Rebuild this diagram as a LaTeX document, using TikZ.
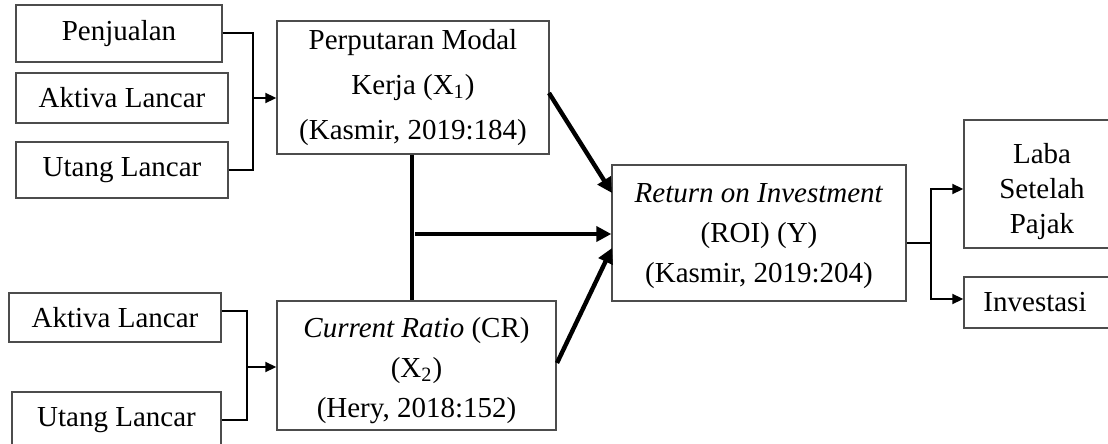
\documentclass[tikz,border=0pt]{standalone}
\usepackage{fontspec}
\setmainfont{Liberation Serif}
\usetikzlibrary{arrows.meta,calc}
\begin{document}
\begin{tikzpicture}[x=0.5pt,y=-0.5pt,
  box/.style={draw=black!70,line width=0.7pt,rectangle,inner sep=0pt,align=center,
    font=\fontsize{14.5}{22.5}\selectfont},
  txt/.style={align=center,inner sep=0pt},
  thin/.style={draw=black,line width=0.9pt},
  thinarrow/.style={thin,-{Triangle[length=5.5pt,width=5pt]}},
  thick/.style={draw=black,line width=2.2pt},
  thickarrow/.style={thick,-{Triangle[length=7.5pt,width=7.5pt]}}
]
\useasboundingbox (0,0) rectangle (1108,444);
% left top inputs
\node[box,minimum width=103pt,minimum height=28.5pt] (pen) at (119,33.5) {Penjualan};
\node[box,minimum width=106pt,minimum height=25pt] (ak1) at (122,98) {Aktiva Lancar};
\node[box,minimum width=106pt,minimum height=28pt] (ut1) at (122,170) {Utang Lancar};
% X1
\node[box,minimum width=136pt,minimum height=66.5pt] (pmk) at (413,87.5)
  {Perputaran Modal\\Kerja (X\textsubscript{1})\\(Kasmir, 2019:184)};
% X2
\node[box,minimum width=139.5pt,minimum height=64.5pt,
  label={[txt,font=\fontsize{14.5}{20}\selectfont,yshift=-2.5pt]center:\textit{Current Ratio} (CR)\\(X\textsubscript{2})\\(Hery, 2018:152)}] (cr) at (416.5,365.5) {};
% left bottom inputs
\node[box,minimum width=106pt,minimum height=24.5pt] (ak2) at (115,317.5) {Aktiva Lancar};
\node[box,minimum width=104.5pt,minimum height=28pt] (ut2) at (116.5,420) {Utang Lancar};
% Y
\node[box,minimum width=147pt,minimum height=68pt,
  label={[txt,font=\fontsize{14.5}{20}\selectfont,yshift=-1.5pt]center:\textit{Return on Investment}\\(ROI) (Y)\\(Kasmir, 2019:204)}] (roi) at (759,233) {};
% outputs
\node[box,minimum width=78pt,minimum height=64pt,
  label={[txt,font=\fontsize{14.5}{17.5}\selectfont,yshift=-4pt]center:Laba\\Setelah\\Pajak}] (laba) at (1042,184) {};
\node[box,minimum width=78pt,minimum height=25.5pt,
  label={[txt,font=\fontsize{14.5}{17.5}\selectfont,xshift=-3.5pt]center:Investasi}] (inv) at (1042,302.5) {};

% top-left bracket
\coordinate (b1) at (253,33);
\coordinate (b1m) at (253,98);
\draw[thin] (pen.east |- b1) -- (b1) -- (b1 |- ut1.east) -- (ut1.east);
\draw[thinarrow] (b1m) -- (b1m -| pmk.west);
% bottom-left bracket
\coordinate (b2) at (247,311);
\coordinate (b2m) at (247,367);
\draw[thin] (ak2.east |- b2) -- (b2) -- (b2 |- ut2.east) -- (ut2.east);
\draw[thinarrow] (b2m) -- (b2m -| cr.west);
% thick links
\coordinate (v) at (412,154);
\draw[thick] (v |- pmk.south) -- (v |- cr.north);
\coordinate (h) at (415,234);
\draw[thickarrow] (h) -- (h -| roi.west);
\coordinate (p1) at (549,93);
\coordinate (p2) at (612,193);
\draw[thickarrow] (p1) -- (p2);
\coordinate (c1) at (557,363);
\coordinate (c2) at (612,248);
\draw[thickarrow] (c1) -- (c2);
% right bracket
\coordinate (r1) at (931,243);
\draw[thin] (roi.east |- r1) -- (r1);
\coordinate (r2) at (931,189);
\coordinate (r3) at (931,299);
\draw[thinarrow] (r1) -- (r2) -- (r2 -| laba.west);
\draw[thinarrow] (r1) -- (r3) -- (r3 -| inv.west);
\end{tikzpicture}
\end{document}
